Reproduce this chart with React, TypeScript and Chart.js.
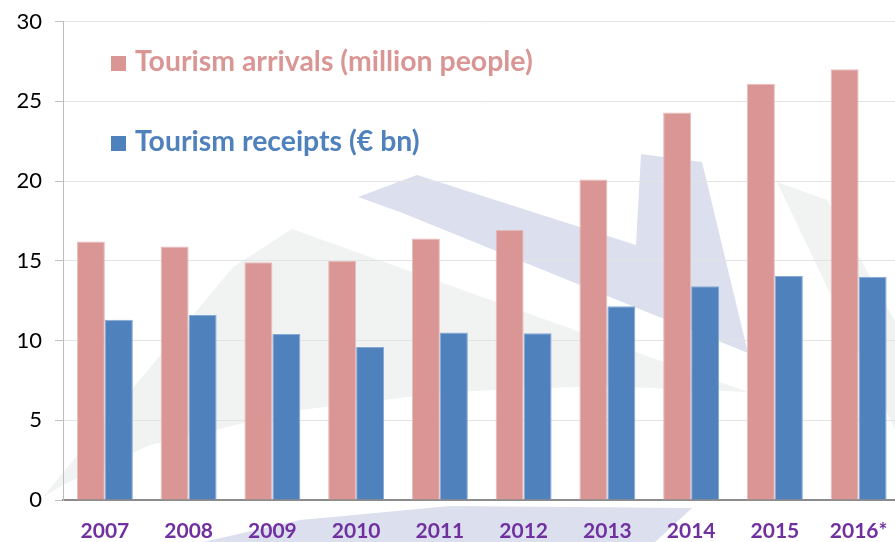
import React, { useEffect, useRef } from "react";
import { Chart, registerables } from "chart.js";

Chart.register(...registerables);

const categories = ["2007", "2008", "2009", "2010", "2011", "2012", "2013", "2014", "2015", "2016*"];
const arrivals = [16.2, 15.9, 14.9, 15.0, 16.4, 16.95, 20.1, 24.3, 26.1, 27.0];
const receipts = [11.3, 11.6, 10.4, 9.6, 10.5, 10.45, 12.15, 13.4, 14.05, 14.0];
const yTicks = [0, 5, 10, 15, 20, 25, 30];

const PINK = "#D99694";
const BLUE = "#4F81BD";
const PURPLE = "#7030A0";

// decorative watermark shapes (canvas pixels), not data
const LAVENDER_SHAPES: number[][][] = [
  [[358, 197], [417, 175], [636, 245], [641, 154], [702, 162], [748, 353], [400, 212]],
  [[190, 545], [300, 520], [450, 506], [692, 508], [652, 545]],
];
const GREY_SHAPES: number[][][] = [
  [[43, 497], [233, 267], [292, 229], [748, 392], [600, 386], [450, 392], [300, 410], [150, 445], [63, 485]],
  [[777, 182], [827, 200], [900, 330], [900, 440]],
];

export default function App() {
  const ref = useRef<HTMLCanvasElement | null>(null);
  useEffect(() => {
    if (!ref.current) return;
    const bgPlugin = {
      id: "bg",
      beforeDraw(chart: any) {
        const ctx = chart.ctx;
        ctx.save();
        ctx.fillStyle = "#ffffff";
        ctx.fillRect(0, 0, chart.width, chart.height);
        const drawPoly = (pts: number[][], color: string) => {
          ctx.beginPath();
          pts.forEach((p, i) => (i === 0 ? ctx.moveTo(p[0], p[1]) : ctx.lineTo(p[0], p[1])));
          ctx.closePath();
          ctx.fillStyle = color;
          ctx.fill();
        };
        GREY_SHAPES.forEach((s) => drawPoly(s, "#f1f3f3"));
        LAVENDER_SHAPES.forEach((s) => drawPoly(s, "#dce0ee"));
        ctx.restore();
      },
    };
    const legendPlugin = {
      id: "innerLegend",
      afterDatasetsDraw(chart: any) {
        const ctx = chart.ctx;
        ctx.save();
        const items = chart.data.datasets.map((d: any, i: number) => ({
          label: d.label,
          color: d.backgroundColor,
          baseline: i === 0 ? 71 : 151,
        }));
        ctx.font = "bold 25px Lato";
        const w = ctx.measureText(items[0].label).width;
        const size = (25 * 398) / w;
        ctx.font = `bold ${size}px Lato`;
        ctx.textBaseline = "alphabetic";
        ctx.textAlign = "left";
        items.forEach((it: any) => {
          ctx.fillStyle = it.color;
          ctx.fillRect(111, it.baseline - 15, 15, 15);
          ctx.fillText(it.label, 135, it.baseline);
        });
        ctx.restore();
      },
    };
    const chart = new Chart(ref.current, {
      type: "bar",
      data: {
        labels: categories,
        datasets: [
          {
            label: "Tourism arrivals (million people)",
            data: arrivals,
            backgroundColor: PINK,
            borderColor: "#E8BDBC",
            borderWidth: 1,
            barPercentage: 1,
            categoryPercentage: 0.668,
          },
          {
            label: "Tourism receipts (€ bn)",
            data: receipts,
            backgroundColor: BLUE,
            borderColor: "#86A8D4",
            borderWidth: 1,
            barPercentage: 1,
            categoryPercentage: 0.668,
          },
        ],
      },
      options: {
        responsive: false,
        animation: false,
        layout: { padding: { top: 21.5, right: 3.5, left: 0, bottom: 0 } },
        plugins: { legend: { display: false }, tooltip: { enabled: false } },
        scales: {
          x: {
            grid: { display: false, drawTicks: false },
            border: { display: true, color: "#8c8c8c", width: 2 },
            ticks: {
              color: PURPLE,
              font: { family: "Lato", weight: "bold", size: 21 },
              padding: 19,
              maxRotation: 0,
              autoSkip: false,
            },
            afterFit: (s: any) => {
              s.height = 42;
              s.paddingLeft = 0;
              s.paddingRight = 0;
            },
          },
          y: {
            min: 0,
            max: 30,
            afterBuildTicks: (s: any) => {
              s.ticks = yTicks.map((v) => ({ value: v }));
            },
            grid: { color: "#e3e3e3", lineWidth: 1, tickLength: 8, tickColor: "#c0c0c0", drawTicks: true },
            border: { display: true, color: "#bdbdbd", width: 1 },
            ticks: {
              color: "#000000",
              font: { family: "Lato", size: 22 },
              padding: 13,
            },
            afterFit: (s: any) => {
              s.width = 63;
              s.paddingTop = 0;
              s.paddingBottom = 0;
            },
          },
        },
      },
      plugins: [bgPlugin, legendPlugin],
    });
    return () => chart.destroy();
  }, []);
  return (
    <div style={{ position: "fixed", left: 0, top: 0, width: 895, height: 542, overflow: "hidden", background: "#fff" }}>
      <canvas ref={ref} width={904} height={542} style={{ display: "block" }} />
    </div>
  );
}
